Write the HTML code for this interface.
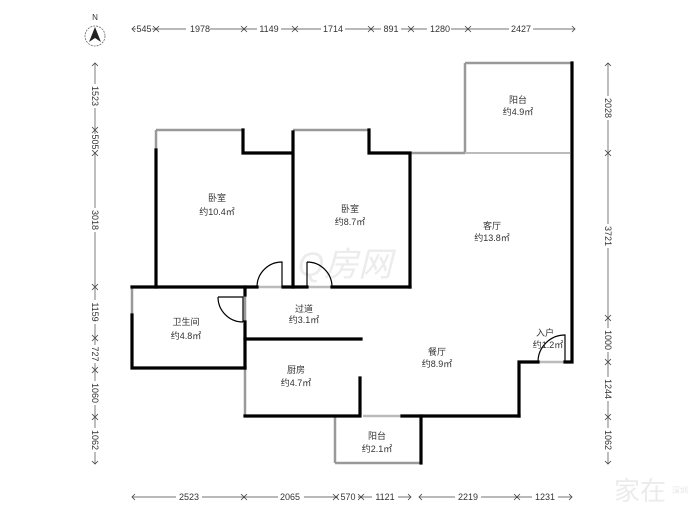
<!DOCTYPE html>
<html><head><meta charset="utf-8"><style>
html,body{margin:0;padding:0;background:#fff;}
svg{display:block;}
text{font-family:"Liberation Sans","Noto Sans CJK SC",sans-serif;fill:#333;}
</style></head><body>
<svg width="700" height="525" viewBox="0 0 700 525" xmlns="http://www.w3.org/2000/svg">
<circle cx="95" cy="36" r="10" fill="none" stroke="#666" stroke-width="0.8" stroke-dasharray="2,1"/>
<path d="M95 27 L101 42 L95 38 L89 42 Z" fill="#222"/>
<text x="95" y="20" font-size="8" text-anchor="middle">N</text>

<g font-size="9" text-anchor="middle" fill="#333">
<line x1="132" y1="29" x2="575" y2="29" stroke="#444" stroke-width="0.7"/>
<rect x="136" y="23" width="16" height="12" fill="#fff"/><text x="144" y="32">545</text>
<rect x="186" y="23" width="24" height="12" fill="#fff"/><text x="200" y="32">1978</text>
<rect x="257" y="23" width="24" height="12" fill="#fff"/><text x="269" y="32">1149</text>
<rect x="321" y="23" width="24" height="12" fill="#fff"/><text x="333" y="32">1714</text>
<rect x="381" y="23" width="20" height="12" fill="#fff"/><text x="391" y="32">891</text>
<rect x="427" y="23" width="24" height="12" fill="#fff"/><text x="440" y="32">1280</text>
<rect x="509" y="23" width="24" height="12" fill="#fff"/><text x="521" y="32">2427</text>
<!-- top arrows -->
<path stroke="#444" stroke-width="0.8" fill="none" d="
M135 26 L132 29 L135 32
M153 26 L156 29 L153 32 M159 26 L156 29 L159 32
M241 26 L244 29 L241 32 M247 26 L244 29 L247 32
M292 26 L295 29 L292 32 M298 26 L295 29 L298 32
M368 26 L371 29 L368 32 M374 26 L371 29 L374 32
M408 26 L411 29 L408 32 M414 26 L411 29 L414 32
M465 26 L468 29 L465 32 M471 26 L468 29 L471 32
M572 26 L575 29 L572 32"/>

<line x1="132" y1="497" x2="411" y2="497" stroke="#444" stroke-width="0.7"/>
<line x1="419" y1="497" x2="572" y2="497" stroke="#444" stroke-width="0.7"/>
<rect x="176" y="491" width="26" height="12" fill="#fff"/><text x="189" y="500">2523</text>
<rect x="278" y="491" width="26" height="12" fill="#fff"/><text x="290" y="500">2065</text>
<rect x="338" y="491" width="20" height="12" fill="#fff"/><text x="348" y="500">570</text>
<rect x="372" y="491" width="26" height="12" fill="#fff"/><text x="385" y="500">1121</text>
<rect x="455" y="491" width="26" height="12" fill="#fff"/><text x="468" y="500">2219</text>
<rect x="532" y="491" width="26" height="12" fill="#fff"/><text x="545" y="500">1231</text>
<path stroke="#444" stroke-width="0.8" fill="none" d="
M135 494 L132 497 L135 500
M241 494 L244 497 L241 500 M247 494 L244 497 L247 500
M333 494 L336 497 L333 500 M339 494 L336 497 L339 500
M358 494 L361 497 L358 500 M364 494 L361 497 L364 500
M408 494 L411 497 L408 500
M422 494 L419 497 L422 500
M514 494 L517 497 L514 500 M520 494 L517 497 L520 500
M569 494 L572 497 L569 500"/>

<line x1="95" y1="63" x2="95" y2="464" stroke="#444" stroke-width="0.7"/>
<rect x="89" y="84" width="12" height="24" fill="#fff"/><text transform="translate(92,96) rotate(90)">1523</text>
<rect x="89" y="134" width="12" height="18" fill="#fff"/><text transform="translate(92,142) rotate(90)">505</text>
<rect x="89" y="208" width="12" height="24" fill="#fff"/><text transform="translate(92,220) rotate(90)">3018</text>
<rect x="89" y="300" width="12" height="24" fill="#fff"/><text transform="translate(92,312) rotate(90)">1159</text>
<rect x="89" y="345" width="12" height="18" fill="#fff"/><text transform="translate(92,354) rotate(90)">727</text>
<rect x="89" y="381" width="12" height="24" fill="#fff"/><text transform="translate(92,393) rotate(90)">1060</text>
<rect x="89" y="428" width="12" height="24" fill="#fff"/><text transform="translate(92,440) rotate(90)">1062</text>
<path stroke="#444" stroke-width="0.8" fill="none" d="
M92 66 L95 63 L98 66
M92 127 L95 130 L98 127 M92 133 L95 130 L98 133
M92 150 L95 153 L98 150 M92 156 L95 153 L98 156
M92 284 L95 287 L98 284 M92 290 L95 287 L98 290
M92 335 L95 338 L98 335 M92 341 L95 338 L98 341
M92 367 L95 370 L98 367 M92 373 L95 370 L98 373
M92 414 L95 417 L98 414 M92 420 L95 417 L98 420
M92 461 L95 464 L98 461"/>

<line x1="608" y1="63" x2="608" y2="464" stroke="#444" stroke-width="0.7"/>
<rect x="602" y="96" width="12" height="24" fill="#fff"/><text transform="translate(605,108) rotate(90)">2028</text>
<rect x="602" y="224" width="12" height="24" fill="#fff"/><text transform="translate(605,236) rotate(90)">3721</text>
<rect x="602" y="328" width="12" height="24" fill="#fff"/><text transform="translate(605,340) rotate(90)">1000</text>
<rect x="602" y="377" width="12" height="24" fill="#fff"/><text transform="translate(605,389) rotate(90)">1244</text>
<rect x="602" y="428" width="12" height="24" fill="#fff"/><text transform="translate(605,440) rotate(90)">1062</text>
<path stroke="#444" stroke-width="0.8" fill="none" d="
M605 66 L608 63 L611 66
M605 150 L608 153 L611 150 M605 156 L608 153 L611 156
M605 315 L608 318 L611 315 M605 321 L608 318 L611 321
M605 359 L608 362 L611 359 M605 365 L608 362 L611 365
M605 414 L608 417 L611 414 M605 420 L608 417 L611 420
M605 461 L608 464 L611 461"/>
</g>

<text x="345" y="276" font-size="34" font-style="italic" text-anchor="middle" style="fill:#ececec">Q房网</text>

<g stroke="#999" stroke-width="2.5" fill="none">
<line x1="156" y1="130" x2="243" y2="130"/>
<line x1="156" y1="130" x2="156" y2="150"/>
<line x1="293" y1="130" x2="369" y2="130"/>
<line x1="410" y1="153" x2="465" y2="153"/>
<line x1="465" y1="63" x2="465" y2="153"/>
<line x1="465" y1="63" x2="572" y2="63"/>
<line x1="465" y1="153" x2="570" y2="153" stroke="#bbb" stroke-width="2"/>
<line x1="132" y1="287" x2="132" y2="315"/>
<line x1="245" y1="368" x2="245" y2="416"/>
<line x1="245" y1="295" x2="245" y2="322"/>
<line x1="363" y1="416" x2="402" y2="416" stroke="#bbb"/>
<line x1="335" y1="416" x2="335" y2="463"/>
<line x1="335" y1="463" x2="421" y2="463"/>
<line x1="257" y1="287" x2="283" y2="287" stroke="#bbb"/>
<line x1="307" y1="287" x2="332" y2="287" stroke="#bbb"/>
<line x1="538" y1="362" x2="565" y2="362" stroke="#bbb"/>
</g>
<g stroke="#000" stroke-width="3.2" fill="none" stroke-linecap="square">
<polyline points="156,150 156,287"/>
<polyline points="243,130 243,153 292,153"/>
<polyline points="293,132 293,287"/>
<polyline points="369,130 369,153 410,153 410,287"/>
<line x1="132" y1="287" x2="257" y2="287"/>
<line x1="283" y1="287" x2="307" y2="287"/>
<line x1="332" y1="287" x2="410" y2="287"/>
<polyline points="132,315 132,368 245,368"/>
<line x1="245" y1="287" x2="245" y2="295"/>
<line x1="245" y1="322" x2="245" y2="368"/>
<line x1="245" y1="339" x2="361" y2="339"/>
<polyline points="245,416 360,416 360,378"/>
<line x1="402" y1="416" x2="519" y2="416"/>
<polyline points="421,416 421,463"/>
<polyline points="572,63 572,362 565,362"/>
<polyline points="538,362 519,362 519,416"/>
</g>
<g stroke="#000" stroke-width="1.2" fill="none">
<path d="M257 287 A25 25 0 0 1 282 262 L282 287"/>
<path d="M307 262 L307 287 M307 262 A25 25 0 0 1 332 287"/>
<path d="M218 297 L243 297 L243 322 M218 297 A25 25 0 0 0 243 322"/>
<path d="M538 362 A27 27 0 0 1 565 335 L565 362"/>
</g>

<g font-size="9" text-anchor="middle">
<text x="217" y="201">卧室</text><text x="217" y="215">约10.4㎡</text>
<text x="350" y="212">卧室</text><text x="350" y="225">约8.7㎡</text>
<text x="518" y="103">阳台</text><text x="518" y="115">约4.9㎡</text>
<text x="492" y="229">客厅</text><text x="492" y="241">约13.8㎡</text>
<text x="304" y="312">过道</text><text x="304" y="323">约3.1㎡</text>
<text x="186" y="325">卫生间</text><text x="186" y="339">约4.8㎡</text>
<text x="296" y="373">厨房</text><text x="296" y="386">约4.7㎡</text>
<text x="437" y="355">餐厅</text><text x="437" y="367">约8.9㎡</text>
<text x="545" y="336">入户</text><text x="548" y="348">约1.2㎡</text>
<text x="377" y="439">阳台</text><text x="377" y="452">约2.1㎡</text>
</g>
<text x="640" y="500" font-size="26" text-anchor="middle" style="fill:#ebebeb">家在</text>
<text x="672" y="493" font-size="8" style="fill:#e6e6e6">深圳</text>
</svg>
</body></html>
